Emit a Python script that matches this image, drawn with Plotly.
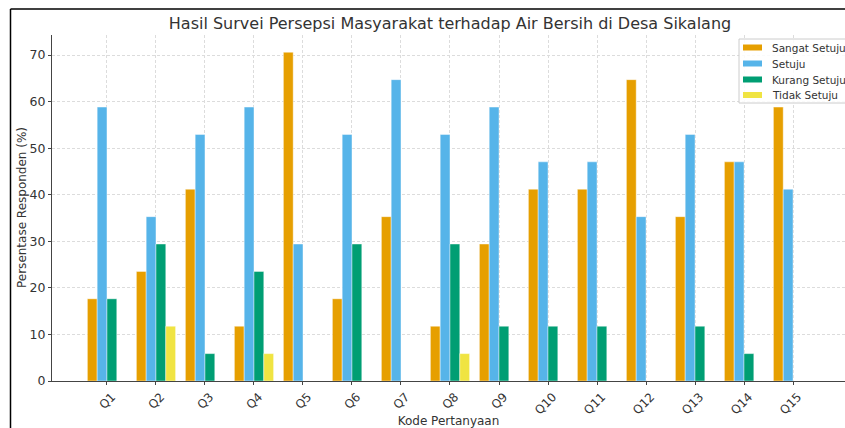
import plotly.graph_objects as go

categories = [f"Q{i}" for i in range(1, 16)]
sangat_setuju = [17.65, 23.53, 41.18, 11.76, 70.59, 17.65, 35.29, 11.76, 29.41, 41.18, 41.18, 64.71, 35.29, 47.06, 58.82]
setuju = [58.82, 35.29, 52.94, 58.82, 29.41, 52.94, 64.71, 52.94, 58.82, 47.06, 47.06, 35.29, 52.94, 47.06, 41.18]
kurang_setuju = [17.65, 29.41, 5.88, 23.53, 0, 29.41, 0, 29.41, 11.76, 11.76, 11.76, 0, 11.76, 5.88, 0]
tidak_setuju = [0, 11.76, 0, 5.88, 0, 0, 0, 5.88, 0, 0, 0, 0, 0, 0, 0]
y_ticks = [0, 10, 20, 30, 40, 50, 60, 70]

series = [
    ("Sangat Setuju", sangat_setuju, "#E69F00", -0.3),
    ("Setuju", setuju, "#56B4E9", -0.1),
    ("Kurang Setuju", kurang_setuju, "#009E73", 0.1),
    ("Tidak Setuju", tidak_setuju, "#F0E442", 0.3),
]

idx = list(range(len(categories)))
fig = go.Figure()
for name, vals, color, off in series:
    fig.add_trace(go.Bar(
        x=[i + off for i in idx], y=vals, width=0.2, name=name, showlegend=False,
        marker=dict(color=color, line=dict(color="rgba(255,255,255,0.7)", width=0.6)),
    ))

W, H = 845, 428
L, R, T, B = 52, 0, 35, 47
pw, ph = W - L - R, H - T - B

def px(x):
    return (x - L) / pw

def py(y):
    return (H - B - y) / ph

fig.update_layout(
    width=W, height=H,
    margin=dict(l=L, r=R, t=T, b=B, autoexpand=False),
    paper_bgcolor="white", plot_bgcolor="white",
    barmode="overlay",
    font=dict(family="DejaVu Sans", color="#333333", size=12),
    title=dict(text="Hasil Survei Persepsi Masyarakat terhadap Air Bersih di Desa Sikalang",
               x=px(450), xref="paper", xanchor="center",
               y=1 - 23 / H, yanchor="middle", font=dict(size=16, color="#333333"),
               automargin=False),
    xaxis=dict(range=[-1.122, 15.061], tickvals=idx, ticktext=categories, tickangle=-45,
               showgrid=True, gridcolor="#dcdcdc", griddash="3px,2px", gridwidth=0.8,
               showline=True, linecolor="#444444", linewidth=1.2,
               ticks="outside", ticklen=3, tickcolor="#444444",
               ticklabelshift=5, ticklabelstandoff=0,
               tickfont=dict(size=12), zeroline=False, automargin=False,
               title=dict(text="Kode Pertanyaan", font=dict(size=12), standoff=4)),
    yaxis=dict(range=[0, 74.3], tickvals=y_ticks,
               showgrid=True, gridcolor="#dcdcdc", griddash="3px,2px", gridwidth=0.8,
               showline=True, linecolor="#444444", linewidth=1.2,
               ticks="outside", ticklen=3, tickcolor="#444444",
               tickfont=dict(size=12.5), zeroline=False, automargin=False),
    showlegend=False,
)

fig.add_annotation(text="Persentase Responden (%)", xref="paper", yref="paper",
                   x=px(22), y=py(208), textangle=-90, showarrow=False,
                   xanchor="center", yanchor="middle", font=dict(size=12, color="#333333"))

# custom legend box (matplotlib style)
fig.add_shape(type="rect", xref="paper", yref="paper",
              x0=px(739), x1=px(848), y0=py(103), y1=py(39),
              fillcolor="rgba(255,255,255,0.85)", line=dict(color="#cccccc", width=1))
row_y = [47.5, 63.5, 79.5, 95]
for (name, vals, color, off), ry in zip(series, row_y):
    fig.add_shape(type="rect", xref="paper", yref="paper",
                  x0=px(743), x1=px(762), y0=py(ry + 3), y1=py(ry - 3),
                  fillcolor=color, line=dict(width=0))
    fig.add_annotation(text=name, xref="paper", yref="paper", x=px(770), y=py(ry),
                       xanchor="left", yanchor="middle", showarrow=False,
                       font=dict(size=10.5, color="#333333"))

fx = px(10.5)
fy = py(9)
fig.add_shape(type="line", xref="paper", yref="paper", x0=fx, x1=fx, y0=-0.3, y1=fy,
              line=dict(color="black", width=1.5))
fig.add_shape(type="line", xref="paper", yref="paper", x0=fx, x1=1.05, y0=fy, y1=fy,
              line=dict(color="black", width=1.5))

fig.write_html("out.html", config={"displayModeBar": False},
               post_script="document.body.style.margin='0px';document.body.style.padding='0px';")
